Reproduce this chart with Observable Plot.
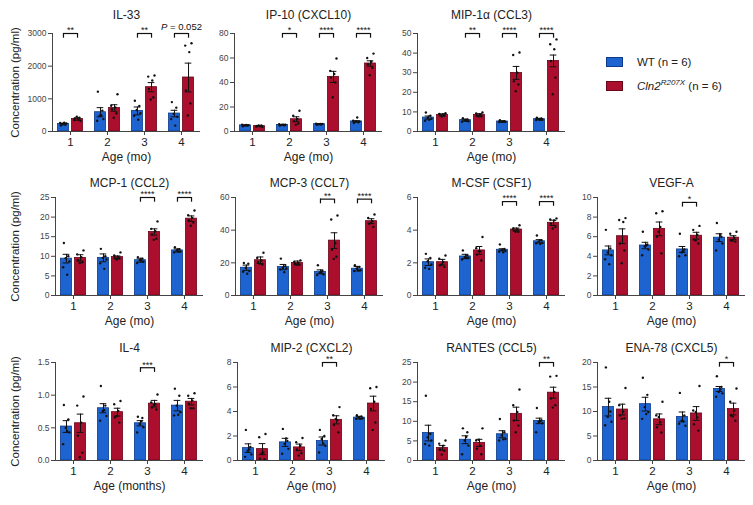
<!DOCTYPE html>
<html><head><meta charset="utf-8">
<script src="https://cdn.jsdelivr.net/npm/d3@7"></script>
<script src="https://cdn.jsdelivr.net/npm/@observablehq/plot@0.6"></script>
<style>
body{margin:0;background:#fff;}
#chart{position:relative;width:753px;height:505px;font-family:"Liberation Sans",Arial,sans-serif;color:#222;}
#chart svg{position:absolute;overflow:visible;}
.leg{position:absolute;font-size:11.5px;line-height:14px;white-space:nowrap;color:#222;}
.sw{position:absolute;width:17px;height:10px;box-sizing:border-box;}
</style></head><body><div id="chart"></div>
<script>
const ages = [1, 2, 3, 4];

// IL-33
const il33_wt = [230, 590, 630, 550];
const il33_wt_sem = [25, 140, 120, 100];
const il33_ko = [380, 720, 1357, 1653];
const il33_ko_sem = [35, 100, 140, 440];
const il33_wt_pts = [[180, 210, 230, 250, 260, 270], [1220, 640, 480, 380, 330, 500], [940, 780, 660, 560, 480, 360], [900, 730, 540, 450, 380, 180]];
const il33_ko_pts = [[330, 350, 380, 400, 420, 450], [1140, 790, 735, 680, 560, 420], [1715, 1680, 1560, 1300, 1050, 980], [2700, 2630, 2430, 1255, 860, 490]];
const il33_sig = ["**", null, "**", "P = 0.052"];

// IP-10
const ip10_wt = [5.0, 5.4, 6.0, 8.2];
const ip10_wt_sem = [0.4, 0.4, 0.4, 0.6];
const ip10_ko = [4.4, 10, 44.6, 55.5];
const ip10_ko_sem = [0.4, 2, 4.5, 2.2];
const ip10_wt_pts = [[4.2, 4.8, 5, 5.2, 5.5, 5.3], [4.8, 5, 5.4, 5.6, 6, 5.6], [5.5, 5.8, 6, 6.2, 6.4, 6.1], [7, 7.5, 8, 8.3, 8.8, 11.4]];
const ip10_ko_pts = [[3.6, 4, 4.3, 4.6, 5, 4.9], [16.9, 12.8, 10, 8.5, 6.5, 5.5], [59.6, 49.5, 47, 44, 40, 28], [63.6, 60, 57, 55, 52, 46]];
const ip10_sig = [null, "*", "****", "****"];

// MIP-1a
const mip1a_wt = [7.1, 5.8, 5.1, 6.3];
const mip1a_wt_sem = [0.8, 0.5, 0.3, 0.4];
const mip1a_ko = [8.5, 8.5, 29.9, 36];
const mip1a_ko_sem = [0.5, 0.6, 3.3, 3.0];
const mip1a_wt_pts = [[9.7, 8, 7, 6.5, 5.5, 6], [6.8, 6.2, 5.8, 5.2, 5, 5.5], [5.8, 5.3, 5, 4.9, 4.8, 5], [7, 6.6, 6.3, 6, 5.9, 6]];
const mip1a_ko_pts = [[9.3, 9, 8.7, 8.4, 8, 7.6], [9.7, 9.2, 8.6, 8, 7.8, 7.7], [40.3, 39, 30, 25.6, 24, 20.5], [47, 44.5, 42, 36, 27.5, 19]];
const mip1a_sig = [null, "**", "****", "****"];

// MCP-1
const mcp1_wt = [9.4, 9.6, 9.0, 11.5];
const mcp1_wt_sem = [1.1, 1.0, 0.5, 0.4];
const mcp1_ko = [9.6, 9.8, 16.2, 19.6];
const mcp1_ko_sem = [0.8, 0.3, 0.8, 0.7];
const mcp1_wt_pts = [[13.4, 10, 9.5, 8.7, 7.2, 5.3], [11.9, 10, 9.6, 9.2, 8.2, 6.8], [9.8, 9.4, 9.0, 8.6, 8.3, 8.9], [12.3, 11.8, 11.5, 11.2, 11, 11.2]];
const mcp1_ko_pts = [[11.5, 10.5, 9.8, 9, 8.5, 8.3], [11, 10.2, 9.8, 9.5, 9.4, 9.2], [18.9, 17, 16.4, 15.6, 14.5, 14.2], [21.7, 20.5, 19.8, 19.2, 18.6, 17.8]];
const mcp1_sig = [null, null, "****", "****"];

// MCP-3
const mcp3_wt = [17, 17.4, 14.5, 16.4];
const mcp3_wt_sem = [1.6, 1.6, 1.2, 1.4];
const mcp3_ko = [21.6, 19.9, 33.6, 45.5];
const mcp3_ko_sem = [2.0, 1.2, 4.8, 1.5];
const mcp3_wt_pts = [[19.9, 19.5, 17, 15, 14.5, 13.3], [22.6, 18, 17, 16.5, 16, 14.3], [18.5, 15, 14, 13, 12.5, 14], [18.5, 17.5, 16.5, 15.5, 15, 15.4]];
const mcp3_ko_pts = [[26.2, 23, 21.5, 20.5, 19, 19.4], [21.5, 20.5, 20, 19.5, 19, 19], [49, 46.5, 32, 28, 23.7, 22.4], [49.6, 47.5, 45.5, 44, 42, 44.4]];
const mcp3_sig = [null, null, "**", "****"];

// M-CSF
const mcsf_wt = [2.04, 2.39, 2.80, 3.32];
const mcsf_wt_sem = [0.2, 0.13, 0.06, 0.1];
const mcsf_ko = [2.04, 2.76, 4.04, 4.45];
const mcsf_ko_sem = [0.17, 0.24, 0.09, 0.16];
const mcsf_wt_pts = [[2.55, 2.3, 2.1, 1.9, 1.7, 1.63], [2.76, 2.45, 2.35, 2.3, 2.2, 2.3], [3.13, 2.85, 2.78, 2.72, 2.68, 2.65], [3.67, 3.38, 3.3, 3.22, 3.2, 3.15]];
const mcsf_ko_pts = [[2.45, 2.25, 2.05, 1.85, 1.75, 1.9], [3.58, 2.9, 2.7, 2.5, 2.14, 2.7], [4.3, 4.1, 4.05, 3.98, 3.9, 3.9], [4.72, 4.65, 4.6, 4.4, 4.2, 4.1]];
const mcsf_sig = [null, null, "****", "****"];

// VEGF-A
const vegf_wt = [4.6, 5.1, 4.7, 5.9];
const vegf_wt_sem = [0.45, 0.33, 0.3, 0.4];
const vegf_ko = [6.05, 6.8, 6.1, 5.9];
const vegf_ko_sem = [0.75, 0.7, 0.35, 0.2];
const vegf_wt_pts = [[6.7, 4.8, 4.4, 4.1, 3.7, 3.2], [6.5, 5.2, 5.0, 4.7, 4.1, 5.1], [6.3, 4.7, 4.4, 4.1, 4.0, 4.5], [7.4, 6.0, 5.7, 5.3, 4.6, 6.2]];
const vegf_ko_pts = [[7.9, 7.7, 7.5, 5.3, 4.6, 3.3], [8.6, 8.4, 7.0, 6.0, 4.3, 6.5], [7.1, 6.7, 6.2, 5.7, 5.3, 5.6], [6.5, 6.3, 5.9, 5.6, 5.5, 5.6]];
const vegf_sig = [null, null, "*", null];

// IL-4
const il4_wt = [0.52, 0.80, 0.57, 0.84];
const il4_wt_sem = [0.09, 0.07, 0.04, 0.08];
const il4_ko = [0.57, 0.74, 0.87, 0.90];
const il4_ko_sem = [0.14, 0.06, 0.05, 0.05];
const il4_wt_pts = [[0.85, 0.63, 0.5, 0.43, 0.25, 0.45], [1.14, 0.84, 0.76, 0.68, 0.61, 0.77], [0.67, 0.65, 0.56, 0.51, 0.43, 0.6], [1.1, 0.99, 0.84, 0.74, 0.69, 0.7]];
const il4_ko_pts = [[0.98, 0.84, 0.58, 0.38, 0.12, 0.05], [0.91, 0.86, 0.76, 0.66, 0.58, 0.68], [1.01, 0.89, 0.86, 0.81, 0.78, 0.85], [1.03, 0.99, 0.92, 0.87, 0.8, 0.8]];
const il4_sig = [null, null, "***", null];

// MIP-2
const mip2_wt = [1.01, 1.48, 1.59, 3.5];
const mip2_wt_sem = [0.35, 0.33, 0.33, 0.1];
const mip2_ko = [0.93, 1.07, 3.32, 4.65];
const mip2_ko_sem = [0.45, 0.27, 0.33, 0.6];
const mip2_wt_pts = [[2.5, 1.1, 0.8, 0.5, 0.3, 0.9], [2.58, 1.6, 1.35, 0.95, 0.55, 1.8], [2.5, 2.0, 1.75, 1.2, 0.65, 1.4], [3.7, 3.6, 3.5, 3.45, 3.4, 3.4]];
const mip2_ko_pts = [[2.16, 1.9, 0.65, 0.15, 0.1, 0.6], [1.84, 1.5, 1.2, 0.9, 0.6, 0.4], [4.36, 3.7, 3.3, 2.9, 2.3, 3.4], [6.0, 5.9, 4.8, 4.2, 3.1, 2.5]];
const mip2_sig = [null, null, "**", null];

// RANTES
const rantes_wt = [7.0, 5.3, 6.7, 10.1];
const rantes_wt_sem = [2.0, 1.0, 0.9, 0.7];
const rantes_ko = [3.2, 4.5, 11.9, 17.3];
const rantes_ko_sem = [0.6, 0.9, 1.7, 1.4];
const rantes_wt_pts = [[16.5, 6.8, 5.9, 5.1, 4.2, 3.8], [8.2, 7.2, 5.1, 3.8, 1.6, 6], [10.6, 7.2, 6.4, 5.5, 5.1, 5.4], [13.4, 10.3, 9.9, 9.5, 7.2, 10]];
const rantes_ko_pts = [[5.1, 4.3, 3.8, 2.9, 2.5, 1.5], [8.2, 5.1, 3.8, 3.0, 1.6, 5.3], [18.1, 14.1, 12.4, 10.2, 8.9, 7.2], [21.6, 21.4, 17.5, 15.8, 14.1, 13.5]];
const rantes_sig = [null, null, null, "**"];

// ENA-78
const ena78_wt = [10.9, 11.5, 8.9, 14.6];
const ena78_wt_sem = [1.8, 1.4, 1.0, 0.5];
const ena78_ko = [10.4, 8.4, 9.6, 10.5];
const ena78_ko_sem = [1.1, 1.1, 1.4, 1.2];
const ena78_wt_pts = [[19, 10, 8.9, 7.9, 7.2, 12], [16.9, 13.4, 10.9, 9.9, 8.5, 9.5], [13.8, 9.2, 8.1, 7.1, 7.5, 8], [17.2, 15, 14, 13.7, 13, 14.5]];
const ena78_ko_pts = [[14.8, 11.3, 10, 9.2, 8.6, 8.5], [12, 9.2, 7.8, 6.8, 5.7, 8.9], [15.2, 10.2, 8.8, 7.4, 6.1, 9.9], [14.7, 12, 10.2, 9.2, 8.1, 9]];
const ena78_sig = [null, null, null, "*"];

const FONT = '"Liberation Sans", Arial, sans-serif';
const BLUE = "#1e64d0", BLUE_D = "#0c3a8c", RED = "#ab0f2d", RED_D = "#680619";
const OFF = 0.19, BW = 0.30, CAP = 0.09;
const JIT = [-0.07, 0.05, -0.02, 0.08, -0.09, 0.02];
const LO = 1 - 18 / 37, HI = LO + 148 / 37;

const panels = [
  {title: "IL-33", wt: il33_wt, wtSem: il33_wt_sem, ko: il33_ko, koSem: il33_ko_sem, wtPts: il33_wt_pts, koPts: il33_ko_pts, sig: il33_sig, max: 3000, ticks: [0, 1000, 2000, 3000], bracket: 3000, xLabel: "Age (mo)", yLabel: true, ax: 52, top: 33, titleDy: 18},
  {title: "IP-10 (CXCL10)", wt: ip10_wt, wtSem: ip10_wt_sem, ko: ip10_ko, koSem: ip10_ko_sem, wtPts: ip10_wt_pts, koPts: ip10_ko_pts, sig: ip10_sig, max: 80, ticks: [0, 20, 40, 60, 80], bracket: 80, xLabel: "Age (mo)", ax: 234, top: 33, titleDy: 18},
  {title: "MIP-1α (CCL3)", wt: mip1a_wt, wtSem: mip1a_wt_sem, ko: mip1a_ko, koSem: mip1a_ko_sem, wtPts: mip1a_wt_pts, koPts: mip1a_ko_pts, sig: mip1a_sig, max: 50, ticks: [0, 10, 20, 30, 40, 50], bracket: 50, xLabel: "Age (mo)", ax: 417, top: 33, titleDy: 18},
  {title: "MCP-1 (CCL2)", wt: mcp1_wt, wtSem: mcp1_wt_sem, ko: mcp1_ko, koSem: mcp1_ko_sem, wtPts: mcp1_wt_pts, koPts: mcp1_ko_pts, sig: mcp1_sig, max: 25, ticks: [0, 5, 10, 15, 20, 25], bracket: 25, xLabel: "Age (mo)", yLabel: true, ax: 55, top: 197, titleDy: 14.5},
  {title: "MCP-3 (CCL7)", wt: mcp3_wt, wtSem: mcp3_wt_sem, ko: mcp3_ko, koSem: mcp3_ko_sem, wtPts: mcp3_wt_pts, koPts: mcp3_ko_pts, sig: mcp3_sig, max: 60, ticks: [0, 20, 40, 60], bracket: 59, xLabel: "Age (mo)", ax: 235, top: 197, titleDy: 14.5},
  {title: "M-CSF (CSF1)", wt: mcsf_wt, wtSem: mcsf_wt_sem, ko: mcsf_ko, koSem: mcsf_ko_sem, wtPts: mcsf_wt_pts, koPts: mcsf_ko_pts, sig: mcsf_sig, max: 6, ticks: [0, 2, 4, 6], bracket: 5.75, xLabel: "Age (mo)", ax: 417, top: 197, titleDy: 14.5},
  {title: "VEGF-A", wt: vegf_wt, wtSem: vegf_wt_sem, ko: vegf_ko, koSem: vegf_ko_sem, wtPts: vegf_wt_pts, koPts: vegf_ko_pts, sig: vegf_sig, max: 10, ticks: [0, 2, 4, 6, 8, 10], bracket: 9.5, xLabel: "Age (mo)", ax: 597, top: 197, titleDy: 14.5},
  {title: "IL-4", wt: il4_wt, wtSem: il4_wt_sem, ko: il4_ko, koSem: il4_ko_sem, wtPts: il4_wt_pts, koPts: il4_ko_pts, sig: il4_sig, max: 1.5, ticks: [0, 0.5, 1, 1.5], fmt: d3.format(".1f"), bracket: 1.42, xLabel: "Age (months)", yLabel: true, ax: 55, top: 362, titleDy: 14.5},
  {title: "MIP-2 (CXCL2)", wt: mip2_wt, wtSem: mip2_wt_sem, ko: mip2_ko, koSem: mip2_ko_sem, wtPts: mip2_wt_pts, koPts: mip2_ko_pts, sig: mip2_sig, max: 8, ticks: [0, 2, 4, 6, 8], bracket: 8, xLabel: "Age (mo)", ax: 237, top: 362, titleDy: 14.5},
  {title: "RANTES (CCL5)", wt: rantes_wt, wtSem: rantes_wt_sem, ko: rantes_ko, koSem: rantes_ko_sem, wtPts: rantes_wt_pts, koPts: rantes_ko_pts, sig: rantes_sig, max: 25, ticks: [0, 5, 10, 15, 20, 25], bracket: 25, xLabel: "Age (mo)", ax: 417, top: 362, titleDy: 14.5},
  {title: "ENA-78 (CXCL5)", wt: ena78_wt, wtSem: ena78_wt_sem, ko: ena78_ko, koSem: ena78_ko_sem, wtPts: ena78_wt_pts, koPts: ena78_ko_pts, sig: ena78_sig, max: 20, ticks: [0, 5, 10, 15, 20], bracket: 20, xLabel: "Age (mo)", ax: 597, top: 362, titleDy: 14.5}
];

const ML = 50, MT = 33;
const chart = document.getElementById("chart");

function makePanel(p) {
  const bars = [], pts = [];
  ages.forEach((a, i) => {
    bars.push({age: a, g: "WT", xc: a - OFF, mean: p.wt[i], sem: p.wtSem[i]});
    bars.push({age: a, g: "KO", xc: a + OFF, mean: p.ko[i], sem: p.koSem[i]});
    p.wtPts[i].forEach((v, k) => pts.push({xc: a - OFF + JIT[k % 6], v}));
    p.koPts[i].forEach((v, k) => pts.push({xc: a + OFF + JIT[(k + 3) % 6], v}));
  });
  const sigs = ages.map((a, i) => ({age: a, label: p.sig[i]})).filter(d => d.label);
  const stars = sigs.filter(d => d.label[0] === "*");
  const ptext = sigs.filter(d => d.label[0] !== "*");
  const leg = p.max * 0.048;
  const by = () => p.bracket;
  const fmt = p.fmt || (d => String(d));
  const marks = [
    Plot.rect(bars.filter(d => d.g === "WT"), {x1: d => d.xc - BW / 2, x2: d => d.xc + BW / 2, y1: () => 0, y2: "mean", fill: BLUE, stroke: BLUE_D, strokeWidth: 0.8}),
    Plot.rect(bars.filter(d => d.g === "KO"), {x1: d => d.xc - BW / 2, x2: d => d.xc + BW / 2, y1: () => 0, y2: "mean", fill: RED, stroke: RED_D, strokeWidth: 0.8}),
    Plot.ruleX(bars, {x: "xc", y1: d => d.mean - d.sem, y2: d => d.mean + d.sem, stroke: "#111", strokeWidth: 1}),
    Plot.ruleY(bars, {y: d => d.mean + d.sem, x1: d => d.xc - CAP, x2: d => d.xc + CAP, stroke: "#111", strokeWidth: 1}),
    Plot.ruleY(bars, {y: d => d.mean - d.sem, x1: d => d.xc - CAP, x2: d => d.xc + CAP, stroke: "#111", strokeWidth: 1}),
    Plot.dot(pts, {x: "xc", y: "v", r: 1.2, fill: "#111", stroke: null}),
    Plot.ruleY([0], {x1: () => LO, x2: () => HI, stroke: "#444", strokeWidth: 1}),
    Plot.ruleX([LO], {y1: () => 0, y2: () => p.max, stroke: "#444", strokeWidth: 1}),
    Plot.axisY({ticks: p.ticks, tickSize: 4, tickPadding: 2, fontSize: 8.5, tickFormat: fmt, stroke: "#444", fill: "#444", label: null}),
    Plot.axisX({ticks: ages, tickSize: 4, tickPadding: 2, fontSize: 11.5, tickFormat: d => String(d), stroke: "#444", fill: "#222", label: null}),
    Plot.ruleY(sigs, {y: by, x1: d => d.age - OFF, x2: d => d.age + OFF, stroke: "#111", strokeWidth: 1.2}),
    Plot.ruleX(sigs, {x: d => d.age - OFF, y1: by, y2: () => p.bracket - leg, stroke: "#111", strokeWidth: 1.2}),
    Plot.ruleX(sigs, {x: d => d.age + OFF, y1: by, y2: () => p.bracket - leg, stroke: "#111", strokeWidth: 1.2}),
    Plot.text(stars, {x: "age", y: by, text: "label", dy: -3, fontSize: 9, fill: "#111", lineAnchor: "middle"}),
    Plot.text(ptext, {x: "age", y: by, text: "label", dy: -7, fontSize: 9.5, fill: "#111", lineAnchor: "middle"}),
    Plot.text([p.title], {frameAnchor: "top", dy: -p.titleDy, fontSize: 12, fill: "#222", lineAnchor: "middle", textAnchor: "middle"}),
    Plot.text([p.xLabel], {frameAnchor: "bottom", dy: 26, fontSize: 12, fill: "#222", lineAnchor: "middle", textAnchor: "middle"})
  ];
  if (p.yLabel) marks.push(Plot.text(["Concentration (pg/ml)"], {frameAnchor: "left", dx: p.ax === 52 ? -37 : -40, rotate: -90, fontSize: 11.5, fill: "#222", lineAnchor: "middle", textAnchor: "middle"}));
  const svg = Plot.plot({
    width: ML + 148 + 6, height: 165,
    marginLeft: ML, marginRight: 6, marginTop: MT, marginBottom: 34,
    x: {domain: [LO, HI]},
    y: {domain: [0, p.max]},
    style: {background: "transparent", fontFamily: FONT, overflow: "visible"},
    marks
  });
  svg.style.left = (p.ax - ML) + "px";
  svg.style.top = (p.top - MT) + "px";
  svg.querySelectorAll("text").forEach(t => {
    if (t.textContent === "P = 0.052") {
      const host = t.querySelector("tspan") || t;
      host.textContent = "";
      const i = document.createElementNS("http://www.w3.org/2000/svg", "tspan");
      i.setAttribute("font-style", "italic");
      i.textContent = "P";
      host.appendChild(i);
      host.appendChild(document.createTextNode(" = 0.052"));
    }
  });
  chart.appendChild(svg);
}
panels.forEach(makePanel);

// legend
const legendItems = [
  {html: "WT (n = 6)", fill: BLUE, stroke: BLUE_D, top: 57},
  {html: '<i>Cln2</i><sup style="font-size:8px;font-style:italic;vertical-align:5px;line-height:0">R207X</sup> (n = 6)', fill: RED, stroke: RED_D, top: 81}
];
legendItems.forEach(it => {
  const sw = document.createElement("div");
  sw.className = "sw";
  sw.style.left = "606px"; sw.style.top = it.top + "px";
  sw.style.background = it.fill; sw.style.border = "1px solid " + it.stroke;
  chart.appendChild(sw);
  const lb = document.createElement("div");
  lb.className = "leg";
  lb.style.left = "637px"; lb.style.top = (it.top - 2) + "px";
  lb.innerHTML = it.html;
  chart.appendChild(lb);
});
</script>
</body></html>
